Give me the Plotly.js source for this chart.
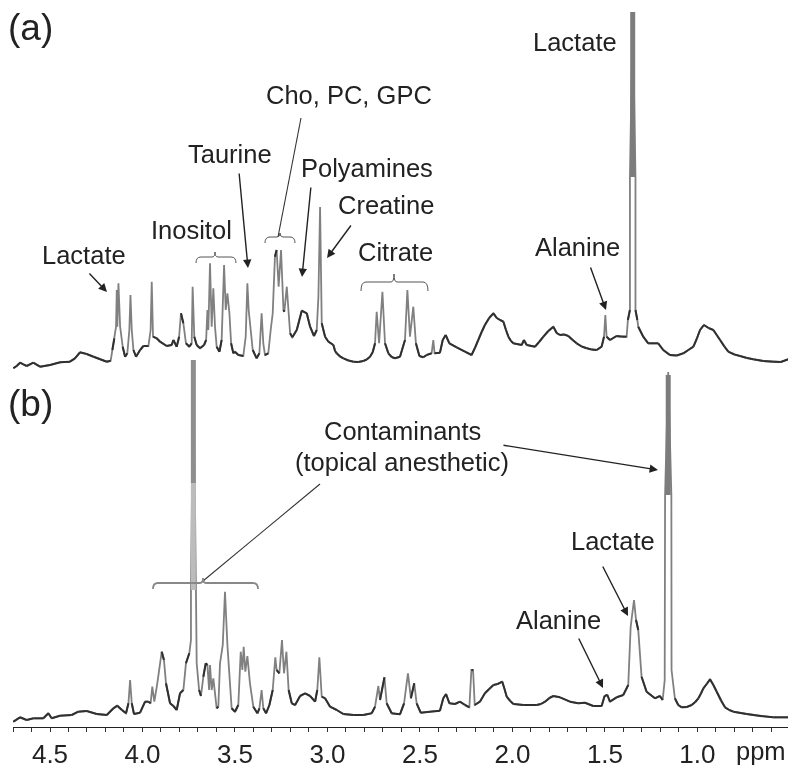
<!DOCTYPE html>
<html>
<head>
<meta charset="utf-8">
<script src="https://cdn.plot.ly/plotly-3.0.1.min.js"></script>
<style>html,body{margin:0;padding:0;background:#fff}#chart{width:800px;height:775px;filter:blur(0.55px)}</style>
</head>
<body>
<div id="chart"></div>
<script>
// Spectrum (a)
const ppmA = [4.698,4.680,4.662,4.644,4.626,4.590,4.554,4.500,4.446,4.392,4.365,4.338,4.302,4.265,4.229,4.193,4.172,4.163,4.152,4.143,4.139,4.136,4.130,4.121,4.107,4.094,4.082,4.071,4.065,4.058,4.049,4.035,4.013,3.995,3.968,3.956,3.950,3.943,3.923,3.905,3.869,3.842,3.833,3.815,3.802,3.792,3.779,3.765,3.747,3.734,3.729,3.720,3.707,3.689,3.667,3.656,3.649,3.644,3.635,3.626,3.617,3.608,3.599,3.584,3.572,3.559,3.550,3.541,3.530,3.521,3.509,3.500,3.482,3.455,3.442,3.433,3.426,3.415,3.404,3.383,3.368,3.356,3.347,3.338,3.320,3.307,3.296,3.284,3.275,3.264,3.251,3.238,3.233,3.220,3.202,3.190,3.166,3.139,3.112,3.094,3.073,3.058,3.049,3.040,3.031,3.013,2.995,2.968,
  2.959,2.950,2.932,2.914,2.887,2.860,2.833,2.806,2.788,2.770,2.755,2.743,
  2.734,2.721,2.703,2.689,2.671,2.653,2.635,2.608,2.581,2.568,2.554,2.536,2.522,2.503,2.482,2.464,2.437,2.428,2.421,2.392,2.377,2.361,2.341,2.302,2.257,2.221,
  2.203,2.185,2.167,2.149,2.126,2.103,2.085,2.067,2.049,2.035,2.022,2.008,1.995,1.950,1.938,1.923,1.878,
  1.856,1.833,1.806,1.779,1.761,1.743,1.720,1.698,1.675,1.653,1.626,1.599,1.572,1.545,1.518,1.505,1.498,1.491,1.473,1.437,1.410,1.383,
  1.376,1.365,1.365,1.350,1.335,1.335,1.325,1.320,
  1.293,1.266,1.212,1.185,1.149,1.112,1.076,1.049,1.022,1.004,0.986,0.965,0.940,0.914,0.896,0.878,0.855,0.833,0.800,0.770,0.734,0.698,0.644,0.590,0.550,0.509];
const intensityA = [1.7,4,7.3,5.7,4,7.3,3.3,5,7.7,8.3,11.7,17.7,16,13.3,10.7,8.3,9.3,20,31.7,43.3,80,43.3,86.7,43.3,23.3,13.3,16.7,40,75,40,20,13.3,20,24,24,40,88.3,33.3,31.7,28.3,24,25,30,23.3,33.3,56.7,46.7,26.7,23.3,26.7,83.3,33.3,25,21.7,25,30,60,40,106.7,43.3,81.7,43.3,23.3,18.3,30,105,60,76.7,56.7,26.7,16.7,18.3,15,14,33.3,86.7,60,40,20,11.7,16.7,56.7,26.7,15,16.7,40,56.7,113.3,120,83.3,120,60,58.3,83.3,36.7,32.7,40,59.3,56.7,43.3,34,40,73.3,163,46.7,33.3,28.3,25,
  19,16.7,13.5,11.7,9.5,8.3,8,9,10.5,13.3,18,26.7,
  58.3,26.7,78.3,26.7,16.7,13,11.7,13.3,30,80,33.3,63.3,26.7,14,12.7,15,16.7,30,16.7,17.3,30,35,26.7,22.7,18.3,15,
  22,30,38,45,52,56.7,52,50,48.3,40,33.3,29,26.7,25,30,25,23.3,
  28,33.3,39,43.3,37,35,35.5,34,30,26.7,23.5,21.7,20.5,20,23.3,33.3,55,33.3,30,34,33.3,33.3,
  50,60,193,358,193,60,50,43.3,
  33.3,26.7,26.7,20,15,14.5,16.7,20,23.3,31,40,45,42,40,35,30,23.5,18.3,15.5,14,12,10.7,9,8.3,8,10.7];
// Spectrum (b)
const ppmB = [4.698,4.662,4.626,4.590,4.536,4.509,4.491,4.446,4.383,4.347,4.302,4.247,4.193,4.157,4.136,4.112,4.089,4.076,4.067,4.058,4.046,4.013,3.986,3.968,3.956,3.947,3.936,3.920,3.909,3.896,3.884,3.873,3.851,3.833,3.815,3.797,3.779,3.765,3.747,3.738,
  3.738,3.725,3.711,3.711,
  3.707,3.694,3.684,3.671,3.658,3.649,3.640,3.635,3.626,3.617,3.608,3.599,3.590,3.581,3.566,3.554,3.541,3.530,3.518,3.500,3.482,3.469,3.460,3.453,3.444,3.433,3.419,3.401,3.379,3.368,3.356,3.347,3.332,3.314,3.296,3.282,3.275,3.260,3.246,3.235,3.222,3.210,3.193,3.175,3.148,3.121,3.094,3.067,3.055,3.044,3.031,3.013,2.986,2.950,2.914,2.860,2.806,2.761,2.743,2.725,2.716,2.692,2.680,2.653,2.608,2.586,2.565,2.549,2.531,2.518,2.496,2.446,2.392,2.374,2.359,2.341,2.311,2.284,2.257,2.233,2.222,2.213,2.204,2.176,
  2.149,2.126,2.103,2.080,2.055,2.043,2.031,2.012,1.995,1.941,1.869,
  1.846,1.824,1.800,1.779,1.743,1.689,1.644,1.608,1.563,1.518,1.502,1.487,1.473,1.437,1.401,1.374,1.361,1.343,1.332,1.320,1.302,1.275,1.230,1.203,1.188,
  1.177,1.175,1.158,1.141,1.140,1.140,
  1.122,1.104,1.085,1.058,1.031,1.012,0.995,0.982,0.968,0.950,0.932,0.914,0.896,0.873,0.851,0.828,0.806,0.734,0.662,0.590,0.509];
const intensityB = [3.3,7.7,5,6.7,6.7,11.7,6.7,9.3,10,13.3,14,11,10,16.7,19.3,15,11.7,21.7,45,21.7,11,12.3,23.3,23.3,21.7,38.3,23.3,41.7,55,73.3,65,41.7,21.7,19,15,31.7,35,61.7,71.7,85,
  135,365,135,70,
  61.7,35,29,48.3,61.7,60,35,60,35,46.7,31.7,16.7,18.3,61.7,80,133.3,80,48.3,16.7,13.3,20,73.3,55,78.3,53.3,69,41.7,18.3,11.7,16.7,35,16.7,11.7,20,35,67.7,55,51.7,85,51.7,73.3,35,21.7,20,29,31.7,29,23.3,35,67.7,28.3,26.7,18.3,15,11,10,10,11.7,18.3,39,25,47.7,21.7,11.7,10.7,21.7,51.7,26.7,41.7,21.7,12.3,13.3,14.3,26.7,31,21.7,21,23.3,20,17.7,55,55,20,23.3,
  31.7,36,40,41,43.3,36,28.3,24,21,20,20,
  21,23.3,27,29,27.7,23.3,21.7,22.3,19,19,29,30,23.3,27.7,30,40,98.3,125,105,95,48.3,33.3,26.7,29,25,
  45,230,353,230,100,55,
  26.7,20,17.7,18,20,23,26.7,31,36.7,41,45.7,40,33.3,24.5,17.7,15,13.3,11,9,7.7,7.7];
// Unresolved tops of the tall peaks
const capPpmA = [1.350,1.350],   capIntensityA = [193,358];
const capPpmB1 = [3.725,3.725],  capIntensityB1 = [135,242];
const capPpmB2 = [3.725,3.725],  capIntensityB2 = [242,365];
const capPpmB3 = [1.158,1.158],  capIntensityB3 = [230,350];
const tickLabels = ['4.5','4.0','3.5','3.0','2.5','2.0','1.5','1.0'];
const tickPpm = [4.5,4.0,3.5,3.0,2.5,2.0,1.5,1.0];

const W = 800, H = 775, ml = 13, mr = 12, plotH = 727;
const px = x => (x - ml) / (W - ml - mr);
const py = y => 1 - y / plotH;
const FONT = 'Liberation Sans, Arial, sans-serif';

const labels = [
  ['(a)', 30, 27, 37], ['(b)', 30, 403, 37],
  ['Lactate', 575, 42, 25.5], ['Cho, PC, GPC', 349, 95, 25.5], ['Taurine', 230, 154, 25.5],
  ['Polyamines', 367, 168, 25.5], ['Creatine', 386, 205, 25.5], ['Inositol', 191, 230, 25.5],
  ['Citrate', 395, 252, 25.5], ['Alanine', 577, 247, 25.5], ['Lactate', 84, 255, 25.5],
  ['Contaminants', 402, 431, 25.5], ['(topical anesthetic)', 402, 462, 25.5],
  ['Lactate', 613, 541, 25.5], ['Alanine', 558, 620, 25.5], ['ppm', 761, 751, 25.5]
];
const arrows = [
  [88,272,107,292],[239,172,248,268],[311,186,302,277],[352,224,327,258],
  [590,266,606,310],[502,445,658,470],[602,565,628,616],[578,637,603,688]
];
const leaders = [[301,118,278,237],[320,484,203,581]];
// x left, y end, y flat, x tip, y tip, x right, line colour, line width
const brackets = [
  [196,263,257,215,252,236,'#555',1],
  [265,243,237,280,233,295,'#555',1],
  [361,291,282,394,274,428,'#555',1],
  [153,589,583,203,578,258,'#888',1.8]
];

const annotations = labels.map(l => ({
  text: l[0], xref:'paper', yref:'paper', x:px(l[1]), y:py(l[2]), xanchor:'center', yanchor:'middle',
  showarrow:false, font:{family:FONT, size:l[3], color:'#222'}
})).concat(arrows.map(a => ({
  text:'', xref:'paper', yref:'paper', x:px(a[2]), y:py(a[3]), ax:a[0]-a[2], ay:a[1]-a[3], axref:'pixel', ayref:'pixel',
  showarrow:true, arrowhead:2, arrowsize:1.2, arrowwidth:1.4, arrowcolor:'#222', standoff:0
})));

const shapes = leaders.map(l => ({
  type:'line', xref:'paper', yref:'paper', x0:px(l[0]), y0:py(l[1]), x1:px(l[2]), y1:py(l[3]),
  line:{color:'#333', width:1.1}
})).concat(brackets.map(b => {
  const [x0,yEnd,yFlat,xm,yTip,xr,col,w] = b, r = 5;
  const P = (x,y) => px(x).toFixed(5)+','+py(y).toFixed(5);
  return {type:'path', xref:'paper', yref:'paper',
    path:'M'+P(x0,yEnd)+' Q'+P(x0,yFlat)+' '+P(x0+r,yFlat)+' L'+P(xm-3,yFlat)+' Q'+P(xm,yFlat)+' '+P(xm,yTip)+
         ' Q'+P(xm,yFlat)+' '+P(xm+3,yFlat)+' L'+P(xr-r,yFlat)+' Q'+P(xr,yFlat)+' '+P(xr,yEnd),
    line:{color:col, width:w}};
}));

// Shallow stretches are drawn dark on top of a grey line; steep walls stay grey as in the scan.
function shallow(xs, ys, limit){
  const ox = [], oy = [];
  for (let i = 0; i < xs.length - 1; i++){
    const s = Math.abs((ys[i+1]-ys[i]) / ((xs[i]-xs[i+1])*185));
    if (s < limit){ ox.push(xs[i], xs[i+1], null); oy.push(ys[i], ys[i+1], null); }
  }
  return [ox, oy];
}
const [ax, ay] = shallow(ppmA, intensityA, 6);
const [bx, by] = shallow(ppmB, intensityB, 6);
const base = {type:'scatter', mode:'lines', hoverinfo:'skip', showlegend:false, connectgaps:false};
const tr = (x,y,axis,color,width) => Object.assign({}, base, {x, y, yaxis:axis, line:{color, width}});
const data = [
  tr(ppmA, intensityA, 'y', '#808080', 1.8),
  tr(ax, ay, 'y', '#2f2f2f', 2),
  tr(capPpmA, capIntensityA, 'y', '#7c7c7c', 5),
  tr(ppmB, intensityB, 'y2', '#808080', 1.8),
  tr(bx, by, 'y2', '#2f2f2f', 2),
  tr(capPpmB1, capIntensityB1, 'y2', '#bcbcbc', 5),
  tr(capPpmB2, capIntensityB2, 'y2', '#8e8e8e', 5),
  tr(capPpmB3, capIntensityB3, 'y2', '#7c7c7c', 5)
];
const layout = {
  width:W, height:H, margin:{l:ml, r:mr, t:0, b:H-plotH, pad:0},
  paper_bgcolor:'#fff', plot_bgcolor:'rgba(0,0,0,0)', showlegend:false,
  xaxis:{range:[4.70,0.5105], showgrid:false, zeroline:false, showline:true, linecolor:'#222', linewidth:1.2,
    tickmode:'array', tickvals:tickPpm, ticktext:tickLabels, ticks:'outside', ticklen:4, tickcolor:'#333', tickwidth:1,
    minor:{dtick:0.1, tick0:0.5, ticks:'outside', ticklen:4, tickcolor:'#333', tickwidth:1, showgrid:false},
    tickfont:{family:FONT, size:26, color:'#222'}},
  yaxis:{range:[-357,370], visible:false, fixedrange:true},
  yaxis2:{range:[-2,725], visible:false, overlaying:'y', fixedrange:true},
  annotations, shapes
};
Plotly.newPlot('chart', data, layout, {displayModeBar:false, staticPlot:true});
</script>
</body>
</html>
